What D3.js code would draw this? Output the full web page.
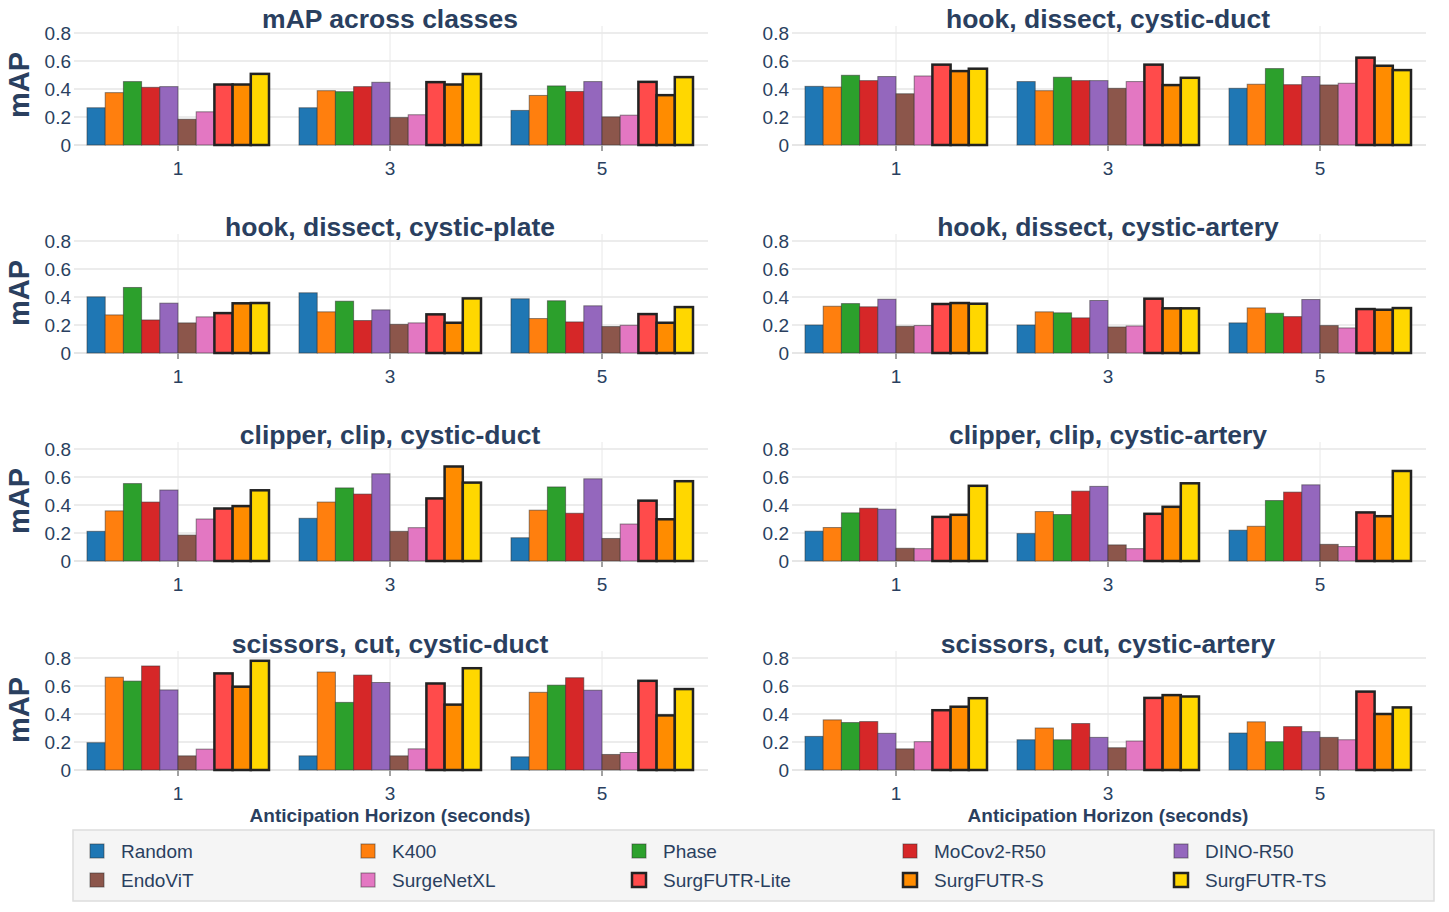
<!DOCTYPE html>
<html>
<head>
<meta charset="utf-8">
<script src="https://cdn.jsdelivr.net/npm/d3@7"></script>
<style>
  body { margin: 0; background: #fff; }
  text { font-family: "Liberation Sans", Arial, sans-serif; fill: #2a3f5f; }
</style>
</head>
<body>
<div id="chart"></div>
<script>
// ------------------------------ DATA ------------------------------
var horizons = [1, 3, 5];
var methods = ["Random", "K400", "Phase", "MoCov2-R50", "DINO-R50",
               "EndoViT", "SurgeNetXL", "SurgFUTR-Lite", "SurgFUTR-S", "SurgFUTR-TS"];
var methodColors = ["#1f77b4", "#ff7f0e", "#2ca02c", "#d62728", "#9467bd",
                    "#8c564b", "#e377c2", "#ff4b4b", "#ff8c00", "#ffd700"];
var oursMethods = ["SurgFUTR-Lite", "SurgFUTR-S", "SurgFUTR-TS"];
var yTicks = [0, 0.2, 0.4, 0.6, 0.8];

// one row per horizon (1, 3, 5), one value per method
var acrossClasses = [
  [0.266, 0.374, 0.453, 0.412, 0.417, 0.184, 0.237, 0.432, 0.432, 0.508],
  [0.266, 0.388, 0.381, 0.417, 0.448, 0.196, 0.216, 0.449, 0.432, 0.507],
  [0.247, 0.354, 0.422, 0.383, 0.453, 0.201, 0.213, 0.451, 0.356, 0.485]
];
var hookDissectDuct = [
  [0.419, 0.414, 0.498, 0.460, 0.489, 0.366, 0.493, 0.574, 0.528, 0.545],
  [0.453, 0.388, 0.484, 0.460, 0.460, 0.405, 0.453, 0.574, 0.428, 0.480],
  [0.405, 0.434, 0.546, 0.431, 0.489, 0.429, 0.441, 0.624, 0.566, 0.535]
];
var hookDissectPlate = [
  [0.401, 0.272, 0.468, 0.236, 0.356, 0.215, 0.258, 0.285, 0.355, 0.357],
  [0.430, 0.294, 0.370, 0.232, 0.308, 0.205, 0.215, 0.276, 0.216, 0.390],
  [0.387, 0.246, 0.373, 0.222, 0.337, 0.189, 0.198, 0.278, 0.216, 0.328]
];
var hookDissectArtery = [
  [0.200, 0.334, 0.353, 0.330, 0.384, 0.191, 0.196, 0.350, 0.357, 0.352],
  [0.200, 0.294, 0.287, 0.251, 0.375, 0.186, 0.193, 0.388, 0.319, 0.319],
  [0.215, 0.322, 0.284, 0.260, 0.382, 0.196, 0.179, 0.314, 0.309, 0.321]
];
var clipperClipDuct = [
  [0.212, 0.358, 0.553, 0.421, 0.507, 0.185, 0.300, 0.375, 0.392, 0.505],
  [0.305, 0.421, 0.522, 0.478, 0.623, 0.212, 0.238, 0.447, 0.675, 0.560],
  [0.166, 0.363, 0.529, 0.341, 0.587, 0.161, 0.264, 0.431, 0.298, 0.570]
];
var clipperClipArtery = [
  [0.213, 0.239, 0.344, 0.377, 0.370, 0.091, 0.088, 0.315, 0.330, 0.537],
  [0.196, 0.353, 0.332, 0.499, 0.533, 0.115, 0.088, 0.337, 0.387, 0.555],
  [0.220, 0.248, 0.432, 0.492, 0.544, 0.119, 0.103, 0.347, 0.320, 0.643]
];
var scissorsCutDuct = [
  [0.195, 0.663, 0.635, 0.743, 0.572, 0.101, 0.149, 0.690, 0.595, 0.780],
  [0.101, 0.700, 0.483, 0.678, 0.625, 0.101, 0.151, 0.618, 0.467, 0.727],
  [0.094, 0.555, 0.606, 0.659, 0.570, 0.111, 0.125, 0.637, 0.390, 0.578]
];
var scissorsCutArtery = [
  [0.240, 0.358, 0.339, 0.346, 0.262, 0.151, 0.202, 0.427, 0.452, 0.513],
  [0.216, 0.300, 0.216, 0.332, 0.233, 0.159, 0.207, 0.515, 0.535, 0.525],
  [0.264, 0.344, 0.202, 0.310, 0.274, 0.233, 0.216, 0.560, 0.400, 0.447]
];

var panelTitles = ["mAP across classes", "hook, dissect, cystic-duct",
                   "hook, dissect, cystic-plate", "hook, dissect, cystic-artery",
                   "clipper, clip, cystic-duct", "clipper, clip, cystic-artery",
                   "scissors, cut, cystic-duct", "scissors, cut, cystic-artery"];
var panelValues = [acrossClasses, hookDissectDuct, hookDissectPlate, hookDissectArtery,
                   clipperClipDuct, clipperClipArtery, scissorsCutDuct, scissorsCutArtery];

// ------------------------------ LAYOUT ------------------------------
var width = 1449, height = 912,
    colRanges = [[72, 708], [790, 1426]],
    rowZero = [145, 353, 561, 770],
    rowHeight = 119,       // px from y=0 to y=0.85
    groupHalf = 91;

var color = d3.scaleOrdinal().domain(methods).range(methodColors);

var svg = d3.select("#chart").append("svg")
    .attr("width", width)
    .attr("height", height);

panelTitles.forEach(function (title, i) {
    var col = i % 2, row = Math.floor(i / 2);
    var x = d3.scaleLinear().domain([0, 6]).range(colRanges[col]);
    var y = d3.scaleLinear().domain([0, 0.85]).range([rowZero[row], rowZero[row] - rowHeight]);
    var sub = d3.scaleBand().domain(methods).range([-groupHalf, groupHalf]).padding(0);
    var g = svg.append("g");

    // grid
    g.selectAll("line.hgrid").data(yTicks).enter().append("line")
        .attr("x1", x(0) + 2).attr("x2", x(6))
        .attr("y1", function (d) { return y(d); }).attr("y2", function (d) { return y(d); })
        .attr("stroke", "#e6e6e6").attr("stroke-width", function (d) { return d === 0 ? 2 : 1.5; });
    g.selectAll("line.vgrid").data(horizons).enter().append("line")
        .attr("x1", function (d) { return x(d); }).attr("x2", function (d) { return x(d); })
        .attr("y1", y(0.85)).attr("y2", y(0))
        .attr("stroke", "#e8e8e8").attr("stroke-width", 1);

    // ticks
    g.selectAll("line.xtick").data(horizons).enter().append("line")
        .attr("x1", function (d) { return x(d); }).attr("x2", function (d) { return x(d); })
        .attr("y1", y(0) + 1).attr("y2", y(0) + 6)
        .attr("stroke", "#444").attr("stroke-width", 1);
    g.selectAll("text.xtick").data(horizons).enter().append("text")
        .attr("x", function (d) { return x(d); })
        .attr("y", y(0) + 30)
        .attr("text-anchor", "middle")
        .attr("font-size", 19)
        .text(function (d) { return d; });
    g.selectAll("text.ytick").data(yTicks).enter().append("text")
        .attr("x", x(0) - 1)
        .attr("y", function (d) { return y(d) + 7; })
        .attr("text-anchor", "end")
        .attr("font-size", 19)
        .text(function (d) { return d === 0 ? "0" : d3.format(".1f")(d); });

    // bars
    var groups = g.selectAll("g.grp").data(panelValues[i]).enter().append("g")
        .attr("transform", function (d, k) { return "translate(" + x(horizons[k]) + ",0)"; });
    groups.selectAll("rect").data(function (d) { return d; }).enter().append("rect")
        .attr("x", function (d, k) { return sub(methods[k]); })
        .attr("width", sub.bandwidth())
        .attr("y", function (d) { return y(d); })
        .attr("height", function (d) { return y(0) - y(d); })
        .attr("fill", function (d, k) { return color(methods[k]); })
        .attr("stroke", function (d, k) { return oursMethods.indexOf(methods[k]) >= 0 ? "#222" : "rgba(50,50,50,0.55)"; })
        .attr("stroke-width", function (d, k) { return oursMethods.indexOf(methods[k]) >= 0 ? 2.5 : 1; });

    // titles
    g.append("text")
        .attr("x", (colRanges[col][0] + colRanges[col][1]) / 2)
        .attr("y", rowZero[row] - 117)
        .attr("text-anchor", "middle")
        .attr("font-size", 26.5)
        .attr("font-weight", "bold")
        .text(title);
    if (col === 0) {
        g.append("text")
            .attr("transform", "translate(29," + (rowZero[row] - 60) + ") rotate(-90)")
            .attr("text-anchor", "middle")
            .attr("font-size", 29)
            .attr("font-weight", "bold")
            .text("mAP");
    }
    if (row === 3) {
        g.append("text")
            .attr("x", (colRanges[col][0] + colRanges[col][1]) / 2)
            .attr("y", 822)
            .attr("text-anchor", "middle")
            .attr("font-size", 19)
            .attr("font-weight", "bold")
            .text("Anticipation Horizon (seconds)");
    }
});

// ------------------------------ LEGEND ------------------------------
var legend = svg.append("g");
legend.append("rect")
    .attr("x", 73).attr("y", 830).attr("width", 1361).attr("height", 71)
    .attr("fill", "#f5f5f5").attr("stroke", "#dddddd").attr("stroke-width", 1.5);
var items = legend.selectAll("g.item").data(methods).enter().append("g")
    .attr("transform", function (d, k) {
        return "translate(" + (90 + (k % 5) * 271) + "," + (844 + Math.floor(k / 5) * 29) + ")";
    });
items.append("rect")
    .attr("width", 14).attr("height", 14)
    .attr("fill", function (d) { return color(d); })
    .attr("stroke", function (d) { return oursMethods.indexOf(d) >= 0 ? "#222" : "rgba(50,50,50,0.55)"; })
    .attr("stroke-width", function (d) { return oursMethods.indexOf(d) >= 0 ? 2.5 : 1; });
items.append("text")
    .attr("x", 31).attr("y", 14)
    .attr("font-size", 19)
    .text(function (d) { return d; });
</script>
</body>
</html>
